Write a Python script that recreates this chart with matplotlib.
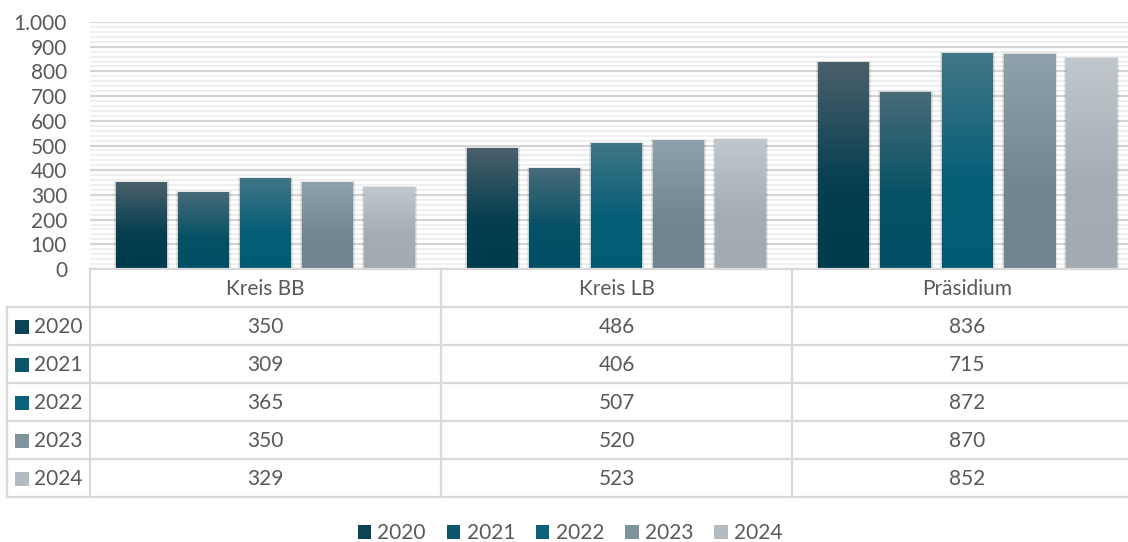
import numpy as np
import matplotlib
matplotlib.use("Agg")
import matplotlib.pyplot as plt
from matplotlib.patches import Rectangle, Patch
from matplotlib.colors import to_rgb

plt.rcParams['font.family'] = ['Lato', 'DejaVu Sans']

categories = ["Kreis BB", "Kreis LB", "Präsidium"]
years = ["2020", "2021", "2022", "2023", "2024"]
values = {
    "2020": [350, 486, 836],
    "2021": [309, 406, 715],
    "2022": [365, 507, 872],
    "2023": [350, 520, 870],
    "2024": [329, 523, 852],
}
# (top colour, base colour) of each series' vertical gradient
top_colors = ["#4a606b", "#486b79", "#417687", "#8fa2ab", "#c0c8cd"]
base_colors = ["#003c4e", "#004f64", "#005c75", "#71858f", "#a1abb1"]
key_colors = ["#0b4456", "#0b566b", "#0a627a", "#7e939c", "#b3bcc2"]

W, H = 1128, 542
fig = plt.figure(figsize=(W / 100, H / 100), dpi=100)

# plot area in pixel terms
px_left, px_right = 90, 1143
px_top, px_bottom = 22, 269
ax = fig.add_axes([px_left / W, 1 - px_bottom / H,
                   (px_right - px_left) / W, (px_bottom - px_top) / H])

text_color = "#595959"
grid_major = "#d4d4d4"
grid_minor = "#ececec"
fs = 15

ax.set_xlim(0, len(categories))
ax.set_ylim(0, 1000)
ax.set_yticks(np.arange(0, 1001, 100))
ax.set_yticks(np.arange(0, 1001, 20), minor=True)
ax.set_yticklabels([f"{v:,}".replace(",", ".") for v in range(0, 1001, 100)])
ax.tick_params(axis="y", which="both", length=0, labelsize=fs,
               labelcolor=text_color, pad=16.5)
ax.tick_params(axis="x", which="both", length=0, labelbottom=False)
ax.grid(axis="y", which="minor", color=grid_minor, lw=1.2, zorder=0)
ax.grid(axis="y", which="major", color=grid_major, lw=1.6, zorder=0)
ax.set_axisbelow(True)
for s in ax.spines.values():
    s.set_visible(False)

px_per_unit = (px_right - px_left) / len(categories)
step = 62 / px_per_unit
bw = 51 / px_per_unit
px_to_y = 1000 / (px_bottom - px_top)


def gradient(top, base, n=200, stop=0.6):
    t = np.linspace(0, 1, n)
    f = np.clip(t / stop, 0, 1)
    f = 0.15 * t + 0.85 * f
    f = np.clip(f, 0, 1)
    a, b = np.array(to_rgb(top)), np.array(to_rgb(base))
    return (a[None, :] * (1 - f[:, None]) + b[None, :] * f[:, None])[:, None, :]


for i, yr in enumerate(years):
    for c, v in enumerate(values[yr]):
        x0 = c + 0.5 + (i - 2) * step - bw / 2
        # soft drop shadow
        for k in range(1, 5):
            dx = k / px_per_unit
            dy = k * px_to_y
            ax.add_patch(Rectangle((x0 - dx * 0.6, 0), bw + dx * 1.2, v + dy * 0.5,
                                   facecolor="black", alpha=0.045, lw=0, zorder=2))
        ax.imshow(gradient(top_colors[i], base_colors[i]),
                  extent=[x0, x0 + bw, 0, v], origin="upper",
                  aspect="auto", zorder=3, interpolation="bilinear")

ax.set_xlim(0, len(categories))
ax.set_ylim(0, 1000)

# data table under the plot, drawn in pixel coordinates
tab = fig.add_axes([0, 0, 1, 1], zorder=5)
tab.set_xlim(0, W)
tab.set_ylim(H, 0)
tab.axis("off")
tab.patch.set_alpha(0)

line_c = "#d9d9d9"
lw = 1.6
col_edges = [px_left + k * px_per_unit for k in range(len(categories) + 1)]
row_top = px_bottom
header_h = 38
row_h = 38
rows_y = [row_top + header_h + k * row_h for k in range(len(years) + 1)]
first_x = 7

# horizontal lines
tab.plot([px_left, W + 20], [row_top, row_top], color=line_c, lw=lw)
for y in rows_y:
    tab.plot([first_x, W + 20], [y, y], color=line_c, lw=lw)
# vertical lines
for x in col_edges[:-1]:
    tab.plot([x, x], [row_top, rows_y[-1]], color=line_c, lw=lw)
tab.plot([first_x, first_x], [rows_y[0], rows_y[-1]], color=line_c, lw=lw)

for c, cat in enumerate(categories):
    cx = (col_edges[c] + col_edges[c + 1]) / 2
    tab.text(cx, row_top + header_h / 2 + 1, cat, ha="center", va="center",
             fontsize=fs, color=text_color)

for i, yr in enumerate(years):
    cy = rows_y[i] + row_h / 2 + 1
    tab.add_patch(Rectangle((15, cy - 7), 14, 14, facecolor=key_colors[i], lw=0))
    tab.text(34, cy, yr, ha="left", va="center", fontsize=fs, color=text_color)
    for c, v in enumerate(values[yr]):
        cx = (col_edges[c] + col_edges[c + 1]) / 2
        tab.text(cx, cy, str(v), ha="center", va="center",
                 fontsize=fs, color=text_color)

# legend
handles = [Patch(facecolor=key_colors[i], lw=0, label=yr)
           for i, yr in enumerate(years)]
fig.legend(handles=handles, loc="center", bbox_to_anchor=(570 / W, 1 - 533 / H),
           ncol=5, frameon=False, fontsize=fs, labelcolor=text_color,
           handlelength=0.65, handleheight=0.65, handletextpad=0.3,
           columnspacing=1.0)

fig.savefig("out.png", dpi=100)
